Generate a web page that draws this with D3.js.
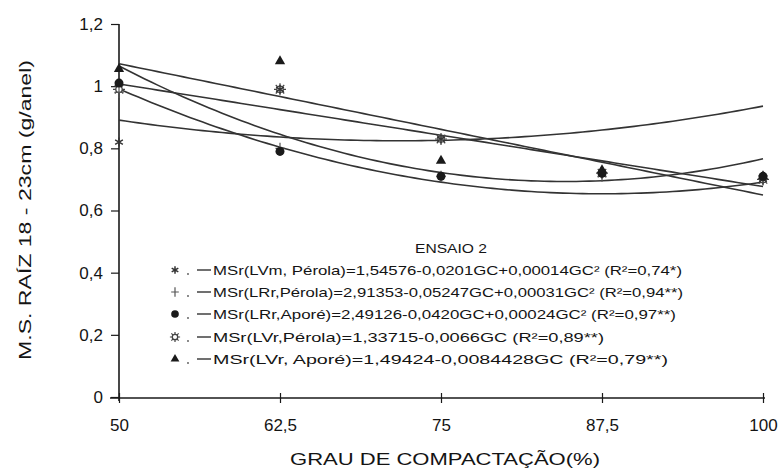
<!DOCTYPE html>
<html>
<head>
<meta charset="utf-8">
<script src="https://cdn.jsdelivr.net/npm/d3@7"></script>
<style>
  html, body { margin: 0; padding: 0; background: #fff; }
  svg text { font-family: "Liberation Sans", Arial, sans-serif; fill: #141414; }
</style>
</head>
<body>
<svg id="chart" width="783" height="474"></svg>
<script>
// ---------- data ----------
const gc = [50, 62.5, 75, 87.5, 100];
const xTickLabels = ["50", "62,5", "75", "87,5", "100"];
const yTicks = [0, 0.2, 0.4, 0.6, 0.8, 1.0, 1.2];
const yTickLabels = ["0", "0,2", "0,4", "0,6", "0,8", "1", "1,2"];

const seriesNames = ["LVm, Pérola", "LRr, Pérola", "LRr, Aporé", "LVr, Pérola", "LVr, Aporé"];
const seriesSymbols = ["asterisk", "plus", "circle", "sun", "triangle"];

const obsLVmPerola = [0.82, 0.99, 0.83, 0.72, 0.70];
const obsLRrPerola = [0.98, 0.80, 0.71, 0.71, 0.70];
const obsLRrApore  = [1.01, 0.79, 0.71, 0.72, 0.71];
const obsLVrPerola = [0.99, 0.99, 0.83, 0.72, 0.70];
const obsLVrApore  = [1.055, 1.08, 0.76, 0.73, 0.71];

// regression coefficients as printed in the legend: a + b*GC + c*GC^2
const coefLVmPerola = [1.54576, -0.0201, 0.00014];
const coefLRrPerola = [2.91353, -0.05247, 0.00031];
const coefLRrApore  = [2.49126, -0.0420, 0.00024];
const coefLVrPerola = [1.33715, -0.0066, 0];
const coefLVrApore  = [1.49424, -0.0084428, 0];

const legendTexts = [
  "MSr(LVm, Pérola)=1,54576-0,0201GC+0,00014GC² (R²=0,74*)",
  "MSr(LRr,Pérola)=2,91353-0,05247GC+0,00031GC² (R²=0,94**)",
  "MSr(LRr,Aporé)=2,49126-0,0420GC+0,00024GC² (R²=0,97**)",
  "MSr(LVr,Pérola)=1,33715-0,0066GC  (R²=0,89**)",
  "MSr(LVr, Aporé)=1,49424-0,0084428GC   (R²=0,79**)"
];
const legendWidths = [469, 470, 463, 391, 455];
const legendTitle = "ENSAIO 2";
const xTitle = "GRAU DE COMPACTAÇÃO(%)";
const yTitle = "M.S. RAÍZ  18 - 23cm (g/anel)";

const observed = [obsLVmPerola, obsLRrPerola, obsLRrApore, obsLVrPerola, obsLVrApore];
const coefs = [coefLVmPerola, coefLRrPerola, coefLRrApore, coefLVrPerola, coefLVrApore];

// ---------- chart ----------
const svg = d3.select("#chart");
const ink = "#1a1a1a";
const lineInk = "#333";

const x = d3.scaleLinear().domain([50, 100]).range([119, 763]);
const y = d3.scaleLinear().domain([0, 1.2]).range([397, 24]);

// y axis
const yAxis = svg.append("g").attr("transform", `translate(${x(50)},0)`)
  .call(d3.axisLeft(y).tickValues(yTicks).tickSize(8).tickPadding(8)
    .tickFormat((d, i) => yTickLabels[i]));
yAxis.select(".domain").attr("stroke", ink).attr("stroke-width", 1.6)
  .attr("d", `M0,${y(1.2)}V${y(0) + 4}`);
yAxis.selectAll(".tick line").attr("stroke", ink).attr("stroke-width", 1.2);
yAxis.selectAll(".tick text").attr("font-size", 17).attr("fill", ink)
  .attr("font-family", "Liberation Sans, Arial, sans-serif");

// x axis
const xAxis = svg.append("g").attr("transform", `translate(0,${y(0) + 1})`)
  .call(d3.axisBottom(x).tickValues(gc).tickSize(6).tickPadding(15)
    .tickFormat((d, i) => xTickLabels[i]));
xAxis.select(".domain").attr("stroke", ink).attr("stroke-width", 1.6)
  .attr("d", `M${x(50) - 9},0H${x(100) + 2}`);
xAxis.selectAll(".tick line").attr("stroke", ink).attr("stroke-width", 1.2)
  .attr("y1", -5).attr("y2", 5);
xAxis.selectAll(".tick text").attr("font-size", 17).attr("fill", ink)
  .attr("font-family", "Liberation Sans, Arial, sans-serif");

// regression curves
const xs = d3.range(50, 100.01, 0.5);
const lineGen = d3.line().x(d => x(d[0])).y(d => y(d[1]));
coefs.forEach(c => {
  const pts = xs.map(v => [v, c[0] + c[1] * v + c[2] * v * v]);
  svg.append("path").datum(pts).attr("d", lineGen)
    .attr("fill", "none").attr("stroke", lineInk).attr("stroke-width", 1.6);
});

// symbols
function drawSymbol(g, type, cx, cy, s) {
  s = s || 1;
  if (type === "circle") {
    g.append("circle").attr("cx", cx).attr("cy", cy).attr("r", 4.5 * s).attr("fill", ink);
  } else if (type === "triangle") {
    g.append("path").attr("d", d3.symbol(d3.symbolTriangle, 46 * s * s)())
      .attr("transform", `translate(${cx},${cy})`).attr("fill", ink);
  } else if (type === "plus") {
    g.append("path").attr("d", `M${cx - 4.5 * s},${cy}H${cx + 4.5 * s}M${cx},${cy - 5.5 * s}V${cy + 5.5 * s}`)
      .attr("stroke", "#555").attr("stroke-width", 1.2).attr("fill", "none");
  } else if (type === "asterisk") {
    const r = 4.5 * s;
    let d = "";
    for (let k = 0; k < 3; k++) {
      const a = Math.PI / 2 + k * Math.PI / 3;
      d += `M${cx - r * Math.cos(a)},${cy - r * Math.sin(a)}L${cx + r * Math.cos(a)},${cy + r * Math.sin(a)}`;
    }
    g.append("path").attr("d", d).attr("stroke", "#333").attr("stroke-width", 1.5).attr("fill", "none");
  } else if (type === "sun") {
    const r = 3.2 * s, R = 6 * s;
    g.append("circle").attr("cx", cx).attr("cy", cy).attr("r", r)
      .attr("fill", "#fff").attr("stroke", "#444").attr("stroke-width", 1.3);
    let d = "";
    for (let k = 0; k < 8; k++) {
      const a = k * Math.PI / 4;
      d += `M${cx + r * Math.cos(a)},${cy + r * Math.sin(a)}L${cx + R * Math.cos(a)},${cy + R * Math.sin(a)}`;
    }
    g.append("path").attr("d", d).attr("stroke", "#444").attr("stroke-width", 1.2).attr("fill", "none");
  }
}

const markers = svg.append("g");
[3, 0, 1, 2, 4].forEach(si => {
  observed[si].forEach((v, i) => drawSymbol(markers, seriesSymbols[si], x(gc[i]), y(v), 1));
});

// legend
const leg = svg.append("g");
leg.append("text").attr("x", 415).attr("y", 253).attr("font-size", 12)
  .attr("textLength", 72).attr("lengthAdjust", "spacingAndGlyphs").text(legendTitle);
const rowY = [270, 292, 314, 337, 359];
seriesNames.forEach((n, i) => {
  const cy = rowY[i];
  drawSymbol(leg, seriesSymbols[i], 175, cy, 0.85);
  leg.append("circle").attr("cx", 188).attr("cy", cy + 4).attr("r", 0.9).attr("fill", "#555");
  leg.append("line").attr("x1", 197).attr("x2", 211).attr("y1", cy).attr("y2", cy)
    .attr("stroke", lineInk).attr("stroke-width", 1.4);
  leg.append("text").attr("x", 213).attr("y", cy + 5).attr("font-size", 13)
    .attr("textLength", legendWidths[i]).attr("lengthAdjust", "spacingAndGlyphs")
    .text(legendTexts[i]);
});

// axis titles
svg.append("text").attr("x", 445).attr("y", 465).attr("text-anchor", "middle")
  .attr("font-size", 17).attr("textLength", 310).attr("lengthAdjust", "spacingAndGlyphs")
  .text(xTitle);
svg.append("text").attr("transform", "translate(31,210) rotate(-90)")
  .attr("text-anchor", "middle").attr("font-size", 17)
  .attr("textLength", 300).attr("lengthAdjust", "spacingAndGlyphs")
  .text(yTitle);
</script>
</body>
</html>
